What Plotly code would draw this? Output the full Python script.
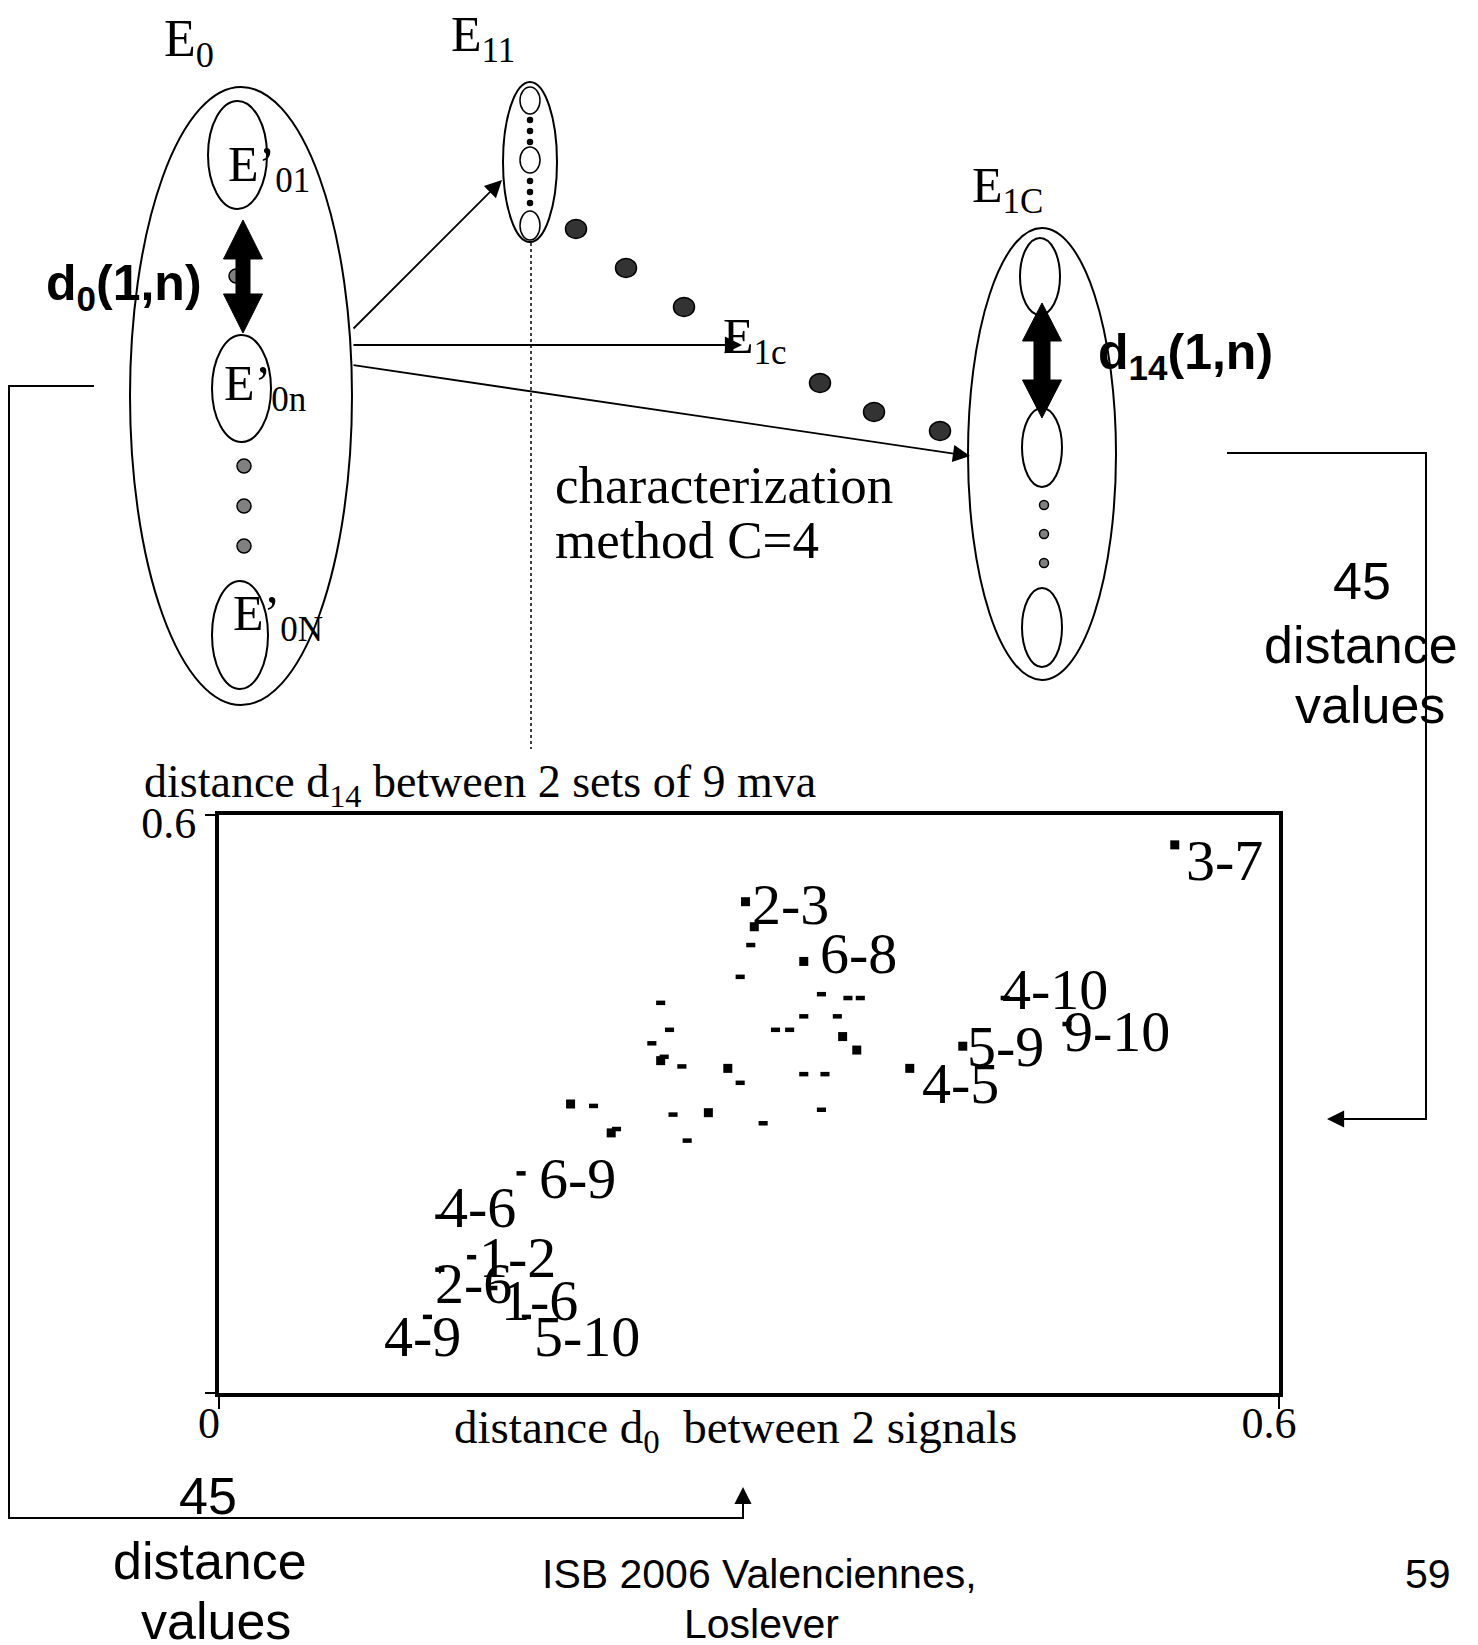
import plotly.graph_objects as go

W, H = 1478, 1645
PAGE = 8  # the page margin of the html body

# distance d0 (x) and d14 (y) for the 45 pairs, two marker series
sq_x = [0.541, 0.298, 0.331, 0.421, 0.391, 0.353, 0.361, 0.288, 0.199, 0.277, 0.222, 0.250, 0.303]
sq_y = [0.569, 0.510, 0.448, 0.360, 0.337, 0.370, 0.356, 0.337, 0.300, 0.291, 0.270, 0.345, 0.484]
sq_lab = ["3-7", "2-3", "6-8", "5-9", "4-5", "", "", "", "", "", "", "", ""]

da_x = [0.301, 0.295, 0.250, 0.341, 0.356, 0.363, 0.331, 0.350, 0.255, 0.315, 0.323,
        0.245, 0.252, 0.262, 0.295, 0.331, 0.343, 0.212, 0.257, 0.341, 0.308, 0.225,
        0.265, 0.171, 0.125, 0.143, 0.125, 0.155, 0.174, 0.118, 0.445, 0.480]
da_y = [0.465, 0.432, 0.405, 0.414, 0.410, 0.410, 0.391, 0.391, 0.377, 0.377, 0.377,
        0.363, 0.349, 0.339, 0.322, 0.331, 0.331, 0.298, 0.289, 0.294, 0.280, 0.274,
        0.262, 0.228, 0.183, 0.141, 0.128, 0.109, 0.079, 0.079, 0.410, 0.383]
da_lab = ["", "", "", "", "", "", "", "", "", "", "",
          "", "", "", "", "", "", "", "", "", "", "",
          "", "6-9", "4-6", "1-2", "2-6", "1-6", "5-10", "4-9", "4-10", "9-10"]

x_ticks = [0, 0.6]
x_ticktext = ["0", "0.6"]
y_ticks = [0, 0.6]
y_ticktext = ["", "0.6"]

# label offsets (px) from the marker, as placed on the slide
label_shift = {"3-7": (9, 16), "2-3": (5, 3), "6-8": (14, -8), "5-9": (2, 0), "4-5": (10, 15),
               "6-9": (16, 5), "4-6": (-3, -9), "1-2": (5, 0), "2-6": (-7, 14), "1-6": (6, 12),
               "5-10": (6, 20), "4-9": (-45, 20), "4-10": (-5, -9), "9-10": (-5, 7)}

SERIF = "Liberation Serif"
SANS = "Liberation Sans"


def px(x):
    return (x - PAGE) / W


def py(y):
    return 1 - (y - PAGE) / H


fig = go.Figure()

fig.add_trace(go.Scatter(x=sq_x, y=sq_y, mode="markers", showlegend=False, hoverinfo="skip",
                         marker=dict(symbol="square", size=9, color="black")))
fig.add_trace(go.Scatter(x=da_x, y=da_y, mode="markers", showlegend=False, hoverinfo="skip",
                         marker=dict(symbol="line-ew", size=6.5, color="black",
                                     line=dict(width=4.5, color="black"))))

# point labels
for xs, ys, labs in [(sq_x, sq_y, sq_lab), (da_x, da_y, da_lab)]:
    for x, y, lab in zip(xs, ys, labs):
        if not lab:
            continue
        dx, dy = label_shift[lab]
        fig.add_annotation(x=x, y=y, xref="x", yref="y", text=lab, showarrow=False,
                           xanchor="left", yanchor="middle", xshift=dx, yshift=-dy,
                           font=dict(family=SERIF, size=58, color="black"))

shapes = []


def ellipse(x0, x1, y0, y1, width=2, fill="rgba(0,0,0,0)", line="black"):
    shapes.append(dict(type="circle", xref="paper", yref="paper",
                       x0=px(x0), x1=px(x1), y0=py(y1), y1=py(y0),
                       line=dict(color=line, width=width), fillcolor=fill))


def dot(cx, cy, r, fill, ry=None):
    ry = ry if ry else r
    ellipse(cx - r, cx + r, cy - ry, cy + ry, width=1.5, fill=fill)


def poly(pts, fill=None, width=2, dash="solid"):
    path = "M " + " L ".join(f"{px(x):.5f},{py(y):.5f}" for x, y in pts)
    if fill:
        path += " Z"
    shapes.append(dict(type="path", xref="paper", yref="paper", path=path,
                       line=dict(color="black", width=width, dash=dash),
                       fillcolor=fill if fill else "rgba(0,0,0,0)"))


def double_arrow(cx, top, bot, hw, hl, sw):
    pts = [(cx, top), (cx + hw, top + hl), (cx + sw, top + hl), (cx + sw, bot - hl),
           (cx + hw, bot - hl), (cx, bot), (cx - hw, bot - hl), (cx - sw, bot - hl),
           (cx - sw, top + hl), (cx - hw, top + hl)]
    poly(pts, fill="black", width=1)


# set E0
ellipse(130, 352, 87, 705)
ellipse(208, 267, 101, 209)
ellipse(212, 271, 335, 442)
ellipse(212, 268, 581, 689)
for yy in [466, 506, 546]:
    dot(244, yy, 7, "#808080")
dot(236, 276, 7, "#808080")
double_arrow(243, 220, 333, 19.5, 39, 7)

# set E11
ellipse(503, 557, 82, 242)
for y0, y1 in [(87, 114), (147, 173), (211, 240)]:
    ellipse(520, 540, y0, y1, width=1.5)
for yy in [120, 131, 142, 181, 192, 203]:
    dot(530, yy, 2.5, "black")
poly([(531, 243), (531, 749)], width=1.5, dash="dot")

# dots between E11 and E1C
for cx, cy in [(576, 229), (626, 268), (684, 307), (820, 383), (874, 412), (940, 431)]:
    dot(cx, cy, 10.5, "#333333", ry=9.5)

# set E1C
ellipse(968, 1116, 228, 680)
ellipse(1020, 1060, 238, 315)
ellipse(1022, 1062, 408, 487)
ellipse(1022, 1062, 588, 667)
for yy in [505, 534, 563]:
    dot(1044, yy, 4.5, "#808080")
double_arrow(1042, 303, 418, 19.5, 38, 8)

# brackets
poly([(94, 386), (9, 386), (9, 1518), (743, 1518), (743, 1500)])
poly([(1227, 453), (1426, 453), (1426, 1119), (1340, 1119)])

fig.update_layout(shapes=shapes)

# arrows
for hx, hy, tx, ty in [(502, 180, 352, 330), (742, 345, 352, 345), (970, 456, 352, 365),
                       (743, 1487, 743, 1518), (1327, 1119, 1426, 1119)]:
    fig.add_annotation(x=px(hx), y=py(hy), xref="paper", yref="paper", text="",
                       showarrow=True, arrowhead=2, arrowsize=1.9, arrowwidth=1.8,
                       arrowcolor="black", ax=tx - hx, ay=ty - hy, standoff=0)


def text(x, y, s, size, family=SERIF, xanchor="left"):
    fig.add_annotation(x=px(x), y=py(y), xref="paper", yref="paper", text=s,
                       showarrow=False, xanchor=xanchor, yanchor="middle",
                       font=dict(family=family, size=size, color="black"))


text(162, 42, "E<sub>0</sub>", 52)
text(449, 38, "E<sub>11</sub>", 50)
text(970, 189, "E<sub>1C</sub>", 50)
text(721, 340, "E<sub>1c</sub>", 50)
text(226, 168, "E’<sub>01</sub>", 50)
text(222, 387, "E’<sub>0n</sub>", 50)
text(231, 617, "E’<sub>0N</sub>", 50)
text(44, 286, "<b>d<sub>0</sub>(1,n)</b>", 50, SANS)
text(1096, 355, "<b>d<sub>14</sub>(1,n)</b>", 50, SANS)
text(553, 485, "characterization", 53)
text(553, 540, "method C=4", 53)

text(1362, 581, "45", 52, SANS, "center")
text(1361, 645, "distance", 52, SANS, "center")
text(1370, 705, "values", 52, SANS, "center")
text(208, 1496, "45", 52, SANS, "center")
text(210, 1561, "distance", 52, SANS, "center")
text(216, 1621, "values", 52, SANS, "center")

text(759, 1574, "ISB 2006 Valenciennes,", 41, SANS, "center")
text(761, 1624, "Loslever", 41, SANS, "center")
text(1428, 1574, "59", 41, SANS, "center")

text(142, 785, "distance d<sub>14</sub> between 2 sets of 9 mva", 46)
text(452, 1430, "distance d<sub>0</sub>  between 2 signals", 47)

fig.update_layout(
    width=W, height=H,
    margin=dict(l=0, r=0, t=0, b=0, pad=0, autoexpand=False),
    paper_bgcolor="white", plot_bgcolor="white",
    xaxis=dict(domain=[px(219), px(1279)], range=[0, 0.6], showgrid=False, zeroline=False,
               automargin=False,
               showline=True, mirror=True, linewidth=4, linecolor="black",
               ticks="outside", ticklen=12, tickwidth=2, tickcolor="black",
               tickvals=x_ticks, ticktext=x_ticktext,
               ticklabelstandoff=-24, ticklabelshift=-10,
               tickfont=dict(family=SERIF, size=44, color="black")),
    yaxis=dict(domain=[py(1393), py(815)], range=[0, 0.6], showgrid=False, zeroline=False,
               automargin=False,
               showline=True, mirror=True, linewidth=4, linecolor="black",
               ticks="outside", ticklen=10, tickwidth=2, tickcolor="black",
               tickvals=y_ticks, ticktext=y_ticktext, ticklabelshift=8,
               tickfont=dict(family=SERIF, size=44, color="black")),
)

fig.write_html("out.html")
